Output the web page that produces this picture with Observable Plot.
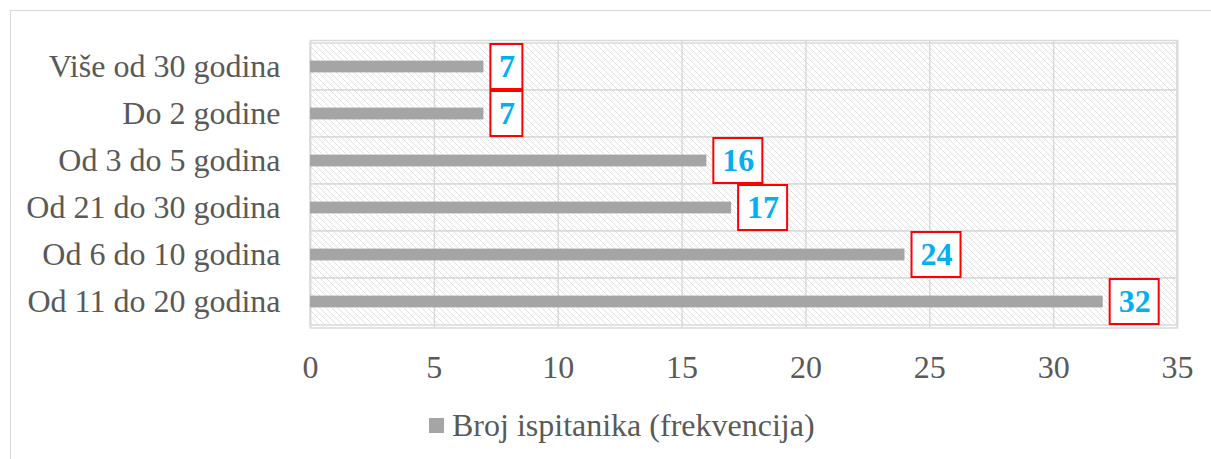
<!DOCTYPE html>
<html><head><meta charset="utf-8">
<script src="https://cdn.jsdelivr.net/npm/d3@7"></script>
<script src="https://cdn.jsdelivr.net/npm/@observablehq/plot@0.6"></script>
<style>
body{margin:0;background:#fff;}
#wrap{position:relative;width:1211px;height:459px;overflow:hidden;font-family:"Liberation Serif","Times New Roman",serif;}
#frame{position:absolute;left:10px;top:10px;width:1300px;height:600px;border:1.5px solid #d9d9d9;box-sizing:border-box}
#chart{position:absolute;left:0;top:0}
#legend{position:absolute;left:429px;top:409px;height:32px;display:flex;align-items:center;font-size:32px;color:#595959;white-space:nowrap}
.sw{display:inline-block;width:15px;height:15px;background:#a5a5a5;margin-right:8px}
</style></head>
<body><div id="wrap"><div id="frame"></div><div id="chart"></div><div id="legend"><span class="sw"></span><span id="legtext"></span></div></div>
<script>
const categories = ["Više od 30 godina", "Do 2 godine", "Od 3 do 5 godina", "Od 21 do 30 godina", "Od 6 do 10 godina", "Od 11 do 20 godina"];
const values = [7, 7, 16, 17, 24, 32];
const xTicks = [0, 5, 10, 15, 20, 25, 30, 35];
const seriesName = "Broj ispitanika (frekvencija)";

const data = categories.map((c, i) => ({category: c, value: values[i]}));
document.getElementById("legtext").textContent = seriesName;

const grid = "#d9d9d9";
const boxMarks = [];
for (const [digits, w] of [[1, 32], [2, 49]]) {
  const sub = data.filter(d => String(d.value).length === digits);
  boxMarks.push(Plot.rect(sub, {x1: "value", x2: "value", y: "category", insetLeft: 7, insetRight: -(7 + w), insetTop: 1, insetBottom: 1, fill: "white", stroke: "#ff0000", strokeWidth: 2}));
  boxMarks.push(Plot.text(sub, {x: "value", y: "category", text: d => String(d.value), dx: 7 + w / 2, textAnchor: "middle", fill: "#00b0f0", fontWeight: "bold", fontSize: 32}));
}

const svg = Plot.plot({
  width: 1211,
  height: 390,
  marginLeft: 310,
  marginRight: 34,
  marginTop: 40,
  marginBottom: 62.5,
  style: {fontFamily: "'Liberation Serif','Times New Roman',serif", fontSize: "32px", color: "#595959", background: "transparent"},
  x: {domain: [0, 35], ticks: xTicks, tickSize: 0, tickPadding: 27, label: null},
  y: {domain: categories, padding: 0, tickSize: 0, tickPadding: 30, label: null},
  marks: [
    Plot.rect(categories, {y: d => d, fill: "url(#hatch)", stroke: grid, strokeWidth: 1.5}),
    Plot.ruleX(xTicks, {stroke: grid, strokeWidth: 1.5}),
    Plot.frame({stroke: grid, strokeWidth: 1.5}),
    Plot.barX(data, {x: "value", y: "category", fill: "#a5a5a5", insetTop: 17.6, insetBottom: 17.6}),
    ...boxMarks
  ]
});
const ns = "http://www.w3.org/2000/svg";
const defs = document.createElementNS(ns, "defs");
defs.innerHTML = '<pattern id="hatch" patternUnits="userSpaceOnUse" width="6" height="6"><rect width="6" height="6" fill="white"/><path d="M0,0L6,6M-3,3L3,9M3,-3L9,3" stroke="#e0e0e0" stroke-width="1"/></pattern>';
svg.insertBefore(defs, svg.firstChild);
document.getElementById("chart").appendChild(svg);
</script>
</body></html>
